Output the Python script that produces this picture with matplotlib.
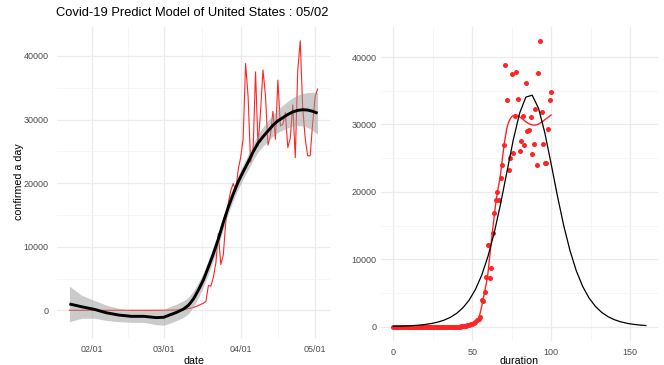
import numpy as np
import matplotlib
matplotlib.use("Agg")
import matplotlib.pyplot as plt
import matplotlib.dates as mdates

plt.rcParams['font.family'] = ['Liberation Sans', 'DejaVu Sans']

# ---------------- data ----------------
start_date = '2020-01-23'
title_text = 'Covid-19 Predict Model of United States : 05/02'

# daily confirmed cases, one per day from start_date (duration 0..100)
daily_cases = [
    0, 1, 0, 3, 0, 0, 0, 0, 1, 1,
    2, 0, 0, 1, 0, 0, 0, 0, 0, 1,
    0, 1, 0, 0, 0, 0, 0, 0, 0, 2,
    0, 0, 12, 0, 0, 3, 0, 5, 7, 10,
    20, 25, 30, 60, 80, 100, 130, 190, 290, 360,
    450, 600, 750, 950, 1100, 1400, 3900, 3800, 5200, 7400,
    12100, 7200, 8700, 13900, 16800, 18800, 19950, 18800, 22100, 24050,
    27000, 38800, 33600, 23300, 25100, 37500, 25800, 31200, 37800, 33750,
    26000, 27500, 31300, 26900, 36200, 29000, 29250, 31100, 25600, 27100,
    32300, 24000, 37700, 42400, 31900, 27050, 24300, 24300, 29350, 33600,
    34800,
]

# smoothed trend (left panel) and its confidence half-width
smooth_days = [0, 5, 10, 15, 20, 25, 30, 35, 38, 40, 43, 46, 48,
               50, 52, 54, 56, 58, 60, 62, 64, 66, 68, 70, 72, 74, 76,
               78, 80, 82, 84, 86, 88, 90, 92, 94, 96, 98, 100]
smooth_vals = [1000, 550, 150, -400, -750, -950, -950, -1150, -1100, -800, -350, 200, 800,
               1800, 3200, 4800, 6800, 8900, 11200, 13800, 16200, 18300, 20200, 21800, 23300,
               24900, 26300, 27300, 28200, 29100, 29800, 30300, 30800, 31200, 31450, 31550,
               31500, 31300, 31000]
smooth_ci = [2800, 1800, 1400, 1200, 1050, 950, 950, 1100, 1250, 1300, 1300, 1300, 1300,
             1250, 1200, 1150, 1100, 1050, 1000, 1000, 1000, 1050, 1100, 1150, 1200,
             1300, 1400, 1500, 1600, 1700, 1800, 1950, 2100, 2250, 2400, 2550,
             2750, 3000, 3300]

# predicted model curve (right panel, black)
model_days = list(range(0, 161, 4))
model_vals = [53, 76, 110, 158, 227, 325, 467, 670, 959, 1373, 1956, 2781, 3926, 5507,
              7640, 10445, 13990, 18250, 22980, 27690, 31650, 34060, 34340, 32430, 28780,
              24180, 19400, 15000, 11260, 8270, 5980, 4275, 3032, 2136, 1499, 1049, 733,
              512, 356, 248, 172]

# fitted line through the observed points (right panel, red)
fit_days = [0, 10, 20, 30, 40, 44, 48, 50, 52,
            53, 54, 55, 56, 57, 58, 59, 60, 61, 62, 63, 64, 65, 66, 67, 68, 69, 70,
            71, 72, 73, 74, 75, 76, 77, 78, 79, 80,
            82, 84, 86, 88, 90, 92, 94, 96, 98, 100]
fit_vals = [0, 0, 0, 5, 20, 60, 200, 350, 500,
            700, 1100, 2000, 3000, 4200, 5300, 6500, 8000, 10200, 12400, 14500, 16500,
            18500, 20000, 21300, 22700, 24700, 26600,
            28200, 29500, 30300, 30800, 31150, 31300, 31400, 31400, 31300, 31150,
            30800, 30400, 30100, 29950, 29900, 30050, 30350, 30700, 31050, 31400]

date_ticks = ['2020-02-01', '2020-03-01', '2020-04-01', '2020-05-01']
date_tick_labels = ['02/01', '03/01', '04/01', '05/01']
y_ticks = [0, 10000, 20000, 30000, 40000]
duration_ticks = [0, 50, 100, 150]

# ---------------- figure ----------------
W, H = 664, 365
fig = plt.figure(figsize=(W / 100, H / 100), dpi=100)


def px_axes(x0, x1, y0, y1):
    return fig.add_axes([x0 / W, 1 - y1 / H, (x1 - x0) / W, (y1 - y0) / H])


ax1 = px_axes(57, 330, 26.5, 338)
ax2 = px_axes(380.7, 658.4, 26.6, 341)

RED = '#FF2424'
TICK_COL = '#4D4D4D'
GRID_MAJ = '#EBEBEB'
GRID_MIN = '#F3F3F3'

start = np.datetime64(start_date)
dates = start + np.arange(len(daily_cases))
sdates = start + np.array(smooth_days)
sv = np.array(smooth_vals, dtype=float)
sc = np.array(smooth_ci, dtype=float)

# left panel
ax1.plot(dates, daily_cases, color=RED, lw=0.8, zorder=3)
ax1.fill_between(sdates, sv - sc, sv + sc, color='#999999', alpha=0.5, lw=0, zorder=4)
ax1.plot(sdates, sv, color='black', lw=2.1, zorder=5, solid_capstyle='butt')

ax1.set_xlim(start - 5, dates[-1] + 5)
ax1.set_ylim(-4357, 44640)
tick_dates = np.array(date_ticks, dtype='datetime64[D]')
tick_nums = mdates.date2num(tick_dates)
ax1.set_xticks(tick_nums)
ax1.set_xticklabels(date_tick_labels)
minor_x = (tick_nums[:-1] + tick_nums[1:]) / 2
ax1.set_xticks(minor_x, minor=True)
ax1.set_yticks(y_ticks)
ax1.set_yticklabels([str(v) for v in y_ticks])
ax1.set_yticks([5000, 15000, 25000, 35000], minor=True)

# right panel
ax2.scatter(np.arange(len(daily_cases)), daily_cases, s=13, color=RED, lw=0, zorder=3)
ax2.plot(fit_days, fit_vals, color=RED, lw=1.0, zorder=4)
ax2.plot(model_days, model_vals, color='black', lw=0.9, zorder=5)
ax2.set_xlim(-8, 168)
ax2.set_ylim(-2120, 44520)
ax2.set_xticks(duration_ticks)
ax2.set_xticklabels([str(v) for v in duration_ticks])
ax2.set_xticks([25, 75, 125], minor=True)
ax2.set_yticks(y_ticks)
ax2.set_yticklabels([str(v) for v in y_ticks])
ax2.set_yticks([5000, 15000, 25000, 35000], minor=True)

for ax, ypad in ((ax1, 6.0), (ax2, 3.0)):
    for s in ax.spines.values():
        s.set_visible(False)
    ax.set_facecolor('white')
    ax.grid(which='major', color=GRID_MAJ, lw=0.9, zorder=0)
    ax.grid(which='minor', color=GRID_MIN, lw=0.5, zorder=0)
    ax.set_axisbelow(True)
    ax.tick_params(which='both', length=0)
    ax.tick_params(axis='x', labelsize=6.5, labelcolor=TICK_COL, pad=5)
    ax.tick_params(axis='y', labelsize=6.5, labelcolor=TICK_COL, pad=ypad)

fig.text(56 / W, 1 - 13 / H, title_text, fontsize=9.3, ha='left', va='center', color='black')
fig.text(19 / W, 1 - 182 / H, 'confirmed a day', fontsize=7.7, rotation=90,
         ha='center', va='center', color='black')
fig.text(193.5 / W, 0.5 / H, 'date', fontsize=7.7, ha='center', va='baseline')
fig.text(519.5 / W, 0.5 / H, 'duration', fontsize=7.7, ha='center', va='baseline')

fig.savefig('out.png', dpi=100, facecolor='white')
